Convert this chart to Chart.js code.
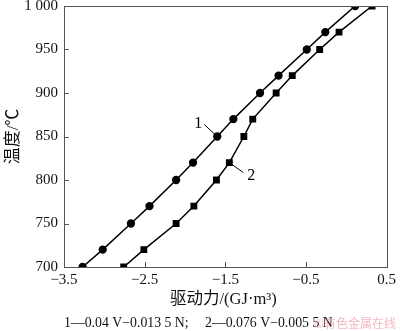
<!DOCTYPE html>
<html>
<head>
<meta charset="utf-8">
<script src="https://cdn.jsdelivr.net/npm/chart.js@4.4.1/dist/chart.umd.min.js"></script>
<style>
  html, body { margin: 0; padding: 0; background: #fff; }
  #wrap { width: 400px; height: 331px; position: relative; }
</style>
</head>
<body>
<div id="wrap"><canvas id="forceChart" width="400" height="331"></canvas></div>
<script>
// curve 1 (circles) and curve 2 (squares)
const force1 = [-3.27, -3.02, -2.67, -2.44, -2.11, -1.90, -1.60, -1.40, -1.07, -0.84, -0.49, -0.26, 0.11];
const temp1  = [700, 720, 750, 770, 800, 820, 850, 870, 900, 920, 950, 970, 1000];
const force2 = [-2.76, -2.51, -2.11, -1.89, -1.61, -1.45, -1.27, -1.16, -0.87, -0.67, -0.33, -0.09, 0.32];
const temp2  = [700, 720, 750, 770, 800, 820, 850, 870, 900, 920, 950, 970, 1000];
const xTicks = [-3.5, -2.5, -1.5, -0.5, 0.5];
const yTicks = [700, 750, 800, 850, 900, 950, 1000];
const xTitle = '驱动力/(GJ·m³)';
const footnote1 = '1—0.04 V−0.013 5 N;';
const footnote2 = '2—0.076 V−0.005 5 N';

const serif = '"Liberation Serif", "Times New Roman", serif';
const cjk = '"Liberation Serif", "Noto Sans CJK SC", serif';

function pts(xs, ys) {
  return xs.map((x, i) => ({ x: x, y: ys[i] }));
}

function fmt(v) {
  let s = String(Math.abs(v));
  if (Math.abs(v) >= 1000) s = s.slice(0, -3) + ' ' + s.slice(-3);
  return (v < 0 ? '−' : '') + s;
}

// frame, inward tick marks, curve labels, x title, footnote
const extras = {
  id: 'extras',
  afterDraw(chart) {
    const ctx = chart.ctx;
    const xs = chart.scales.x, ys = chart.scales.y;
    const area = chart.chartArea;
    ctx.save();
    ctx.strokeStyle = '#555';
    ctx.lineWidth = 1;
    ctx.strokeRect(Math.round(area.left) + 0.5, Math.round(area.top) + 0.5,
      Math.round(area.right - area.left), Math.round(area.bottom - area.top));
    ctx.beginPath();
    xTicks.forEach(t => {
      const px = Math.round(xs.getPixelForValue(t)) + 0.5;
      ctx.moveTo(px, area.bottom);
      ctx.lineTo(px, area.bottom - 5);
    });
    yTicks.forEach(t => {
      const py = Math.round(ys.getPixelForValue(t)) + 0.5;
      ctx.moveTo(area.left, py);
      ctx.lineTo(area.left + 5, py);
    });
    ctx.stroke();

    // curve labels
    const labels = [
      { text: '1', ds: 0, idx: 6, dx: -13, dy: -12, tx: -19, ty: -13 },
      { text: '2', ds: 1, idx: 5, dx: 14, dy: 10, tx: 22, ty: 13 }
    ];
    ctx.strokeStyle = '#000';
    ctx.fillStyle = '#000';
    ctx.font = '16px ' + serif;
    ctx.textAlign = 'center';
    ctx.textBaseline = 'middle';
    labels.forEach(l => {
      const p = chart.getDatasetMeta(l.ds).data[l.idx];
      ctx.beginPath();
      ctx.moveTo(p.x, p.y);
      ctx.lineTo(p.x + l.dx, p.y + l.dy);
      ctx.stroke();
      ctx.fillText(l.text, p.x + l.tx, p.y + l.ty);
    });

    // x axis title
    ctx.fillStyle = '#111';
    ctx.font = '16.5px ' + cjk;
    ctx.fillText(xTitle, (area.left + area.right) / 2 - 2, 300);

    // footnote
    ctx.font = '13.8px ' + serif;
    ctx.textAlign = 'left';
    ctx.fillText(footnote1, 64, 323);
    ctx.fillText(footnote2, 205, 323);
    ctx.font = '12px "Noto Sans CJK SC", sans-serif';
    ctx.fillStyle = 'rgba(235,120,140,0.55)';
    ctx.textAlign = 'right';
    ctx.fillText('©有色金属在线', 396, 323);
    ctx.restore();
  }
};

const ctx = document.getElementById('forceChart').getContext('2d');

new Chart(ctx, {
  type: 'scatter',
  data: {
    datasets: [
      {
        label: '1',
        data: pts(force1, temp1),
        showLine: true,
        borderColor: '#000',
        backgroundColor: '#000',
        borderWidth: 1.5,
        pointStyle: 'circle',
        pointRadius: 3.4,
        pointHoverRadius: 3.4
      },
      {
        label: '2',
        data: pts(force2, temp2),
        showLine: true,
        borderColor: '#000',
        backgroundColor: '#000',
        borderWidth: 1.5,
        pointStyle: 'rect',
        pointRadius: 3.8,
        pointHoverRadius: 3.8
      }
    ]
  },
  options: {
    responsive: false,
    animation: false,
    events: [],
    layout: {
      padding: { top: 0, right: 10, left: 0, bottom: 0 }
    },
    plugins: {
      legend: { display: false },
      tooltip: { enabled: false }
    },
    scales: {
      x: {
        type: 'linear',
        min: -3.5,
        max: 0.5,
        afterBuildTicks: axis => { axis.ticks = xTicks.map(v => ({ value: v })); },
        afterFit: axis => { axis.height = 64; },
        border: { display: false },
        grid: { display: false, drawTicks: false },
        ticks: {
          color: '#111',
          padding: 4,
          maxRotation: 0,
          font: { family: serif, size: 15 },
          callback: v => fmt(v)
        }
      },
      y: {
        min: 700,
        max: 1000,
        afterBuildTicks: axis => { axis.ticks = yTicks.map(v => ({ value: v })); },
        afterFit: axis => {
          axis.width = 64;
          axis.paddingTop = 6;
          axis.paddingBottom = 0;
        },
        border: { display: false },
        grid: { display: false, drawTicks: false },
        ticks: {
          color: '#111',
          padding: 6,
          font: { family: serif, size: 15 },
          callback: v => fmt(v)
        },
        title: {
          display: true,
          text: '温度/℃',
          color: '#111',
          padding: { top: 3, bottom: 0 },
          font: { family: cjk, size: 17 }
        }
      }
    }
  },
  plugins: [extras]
});
</script>
</body>
</html>
